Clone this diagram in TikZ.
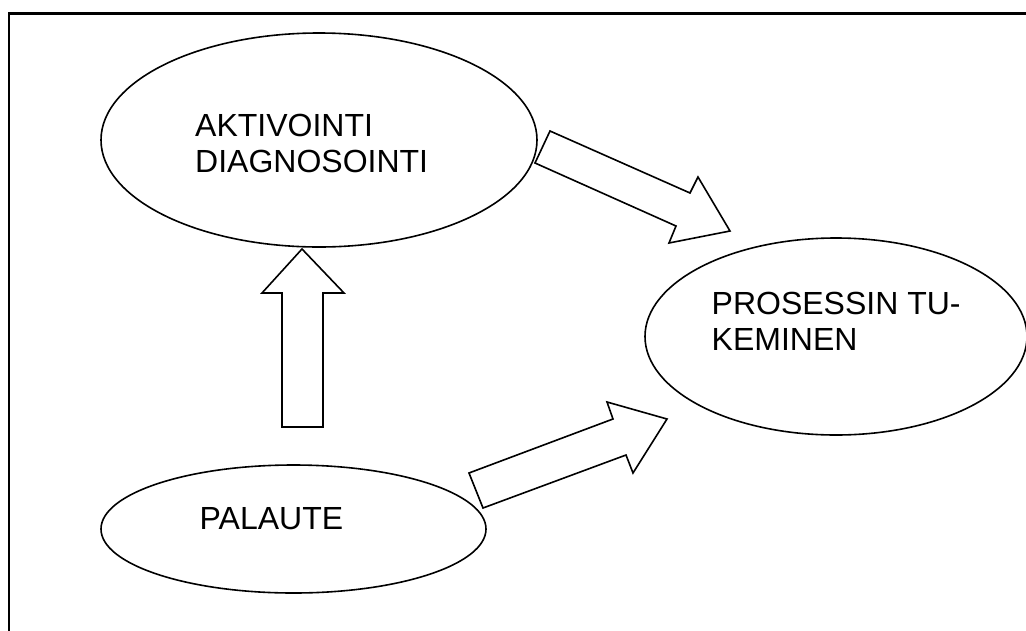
\documentclass[tikz,border=0pt]{standalone}
\usepackage{fontspec}
\setmainfont{Liberation Sans}
\usetikzlibrary{shapes.geometric}

\tikzset{
  blob/.style={draw=black, ellipse, line width=1.6pt, inner sep=0pt},
  blobtext/.style={anchor=north west, inner sep=0pt, align=left, font=\fontsize{32}{36}\selectfont},
  fatarrow/.style={draw=black, fill=white, line width=1.6pt, line join=miter},
}

\begin{document}
\begin{tikzpicture}[x=1pt, y=-1pt]

\useasboundingbox (0,0) rectangle (1026,630);
\clip (0,0) rectangle (1026,630);

% Frame
\draw[line width=2.6pt] (9,13.5) rectangle (1060,660);


% Aktivointi ellipse
\node[blob, minimum width=436pt, minimum height=214pt] (akt) at (319,140) {};
\node[blobtext] (aktText) at (195,114) {AKTIVOINTI\\DIAGNOSOINTI};

% Prosessin tukeminen ellipse
\node[blob, minimum width=382pt, minimum height=197pt] (pros) at (836,336.5) {};
\node[blobtext] (prosText) at (711.5,292) {PROSESSIN TU-\\KEMINEN};

% Palaute ellipse
\node[blob, minimum width=385pt, minimum height=128pt] (pal) at (293.5,529) {};
\node[blobtext] (palText) at (199.5,507) {PALAUTE};


% Arrow up
\filldraw[fatarrow] (282,427) -- (282,293) -- (262,293) -- (302,249) -- (344,293) -- (323,293) -- (323,427) -- cycle;

% Arrow down right
\filldraw[fatarrow] (550,131) -- (690,193) -- (698,177) -- (730,231) -- (669,243) -- (676,226) -- (535,163) -- cycle;

% Arrow up right
\filldraw[fatarrow] (469,473) -- (613,419) -- (607,402) -- (667,419) -- (633,473) -- (626,455) -- (483,508) -- cycle;

\end{tikzpicture}
\end{document}
